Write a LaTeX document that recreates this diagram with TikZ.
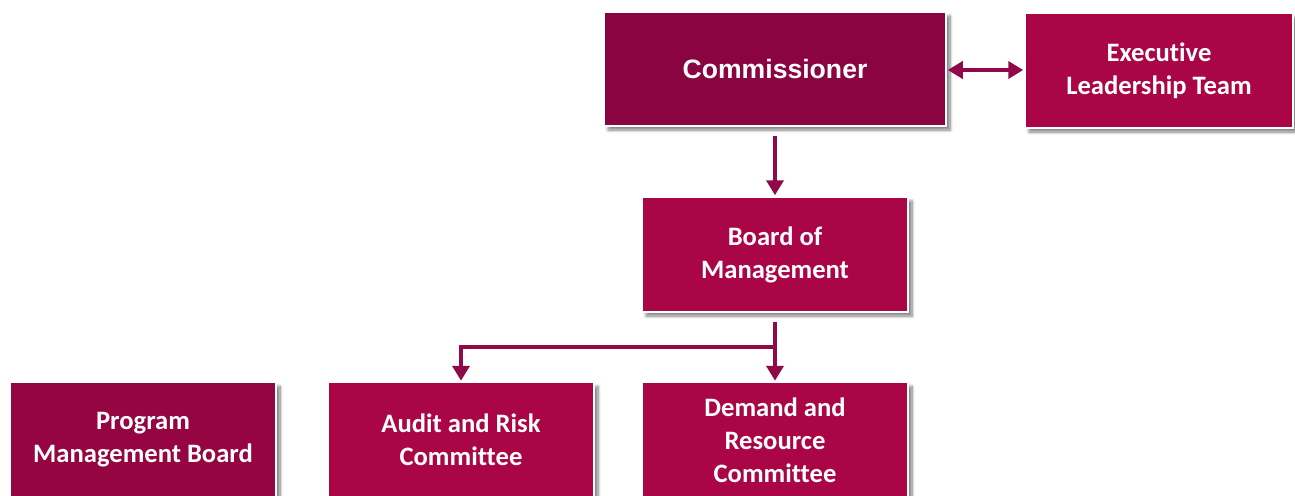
\documentclass[tikz,border=0pt]{standalone}
\usepackage{fontspec}
\newfontfamily\calfont[RawFeature=-liga]{Carlito}
\newfontfamily\arialfont{Liberation Sans}
\usetikzlibrary{arrows.meta,calc,shadows.blur}

\definecolor{plumdark}{HTML}{8A0442}
\definecolor{plum}{HTML}{AA0647}
\definecolor{plummid}{HTML}{950541}
\definecolor{linkcol}{HTML}{900A4A}

\tikzset{
  unitbox/.style={rectangle, fill=plum, draw=white, line width=1.5pt,
    minimum width=266pt, minimum height=115pt, inner sep=0pt,
    text=white, align=center,
    font=\calfont\bfseries\fontsize{26.6}{33}\selectfont,
    blur shadow={shadow xshift=4pt, shadow yshift=-4pt,
      shadow blur radius=3pt, shadow blur steps=8, shadow opacity=50}},
  link/.style={draw=linkcol, line width=4pt,
    -{Triangle[width=17pt,length=15pt]}},
  twolink/.style={draw=linkcol, line width=4pt,
    {Triangle[width=17pt,length=15pt]}-{Triangle[width=17pt,length=15pt]}}
}

\begin{document}
\begin{tikzpicture}[x=1pt,y=-1pt]
  \useasboundingbox (0,0) rectangle (1295,495);

  \node[unitbox, fill=plumdark, minimum width=342pt, minimum height=114pt,
        font=\arialfont\bfseries\fontsize{26.6}{32}\selectfont]
        (comm) at (775,69) {Commissioner};
  \node[unitbox, minimum width=268pt] (elt) at (1159,70.5)
        {Executive\\Leadership Team};
  \node[unitbox] (bom) at (775,254.5) {Board of\\Management};
  \node[unitbox] (drc) at (775,440) {Demand and\\Resource\\Committee};
  \node[unitbox] (arc) at (461,440) {Audit and Risk\\Committee};
  \node[unitbox, fill=plummid] (pmb) at (143,440) {Program\\Management Board};

  % reporting lines
  \draw[twolink, shorten <=1pt, shorten >=1pt]
    ([yshift=-1pt]comm.east) -- ([yshift=-1pt]comm.east -| elt.west);
  \draw[link, shorten <=9pt, shorten >=1pt] (comm.south) -- (bom.north);
  \draw[link, shorten <=9pt, shorten >=1pt] (bom.south) -- (drc.north);
  \coordinate (split) at ($(bom.south)!0.5!(drc.north)$);
  \draw[link, shorten >=1pt] ([xshift=2pt]split) -| (arc.north);
\end{tikzpicture}
\end{document}
